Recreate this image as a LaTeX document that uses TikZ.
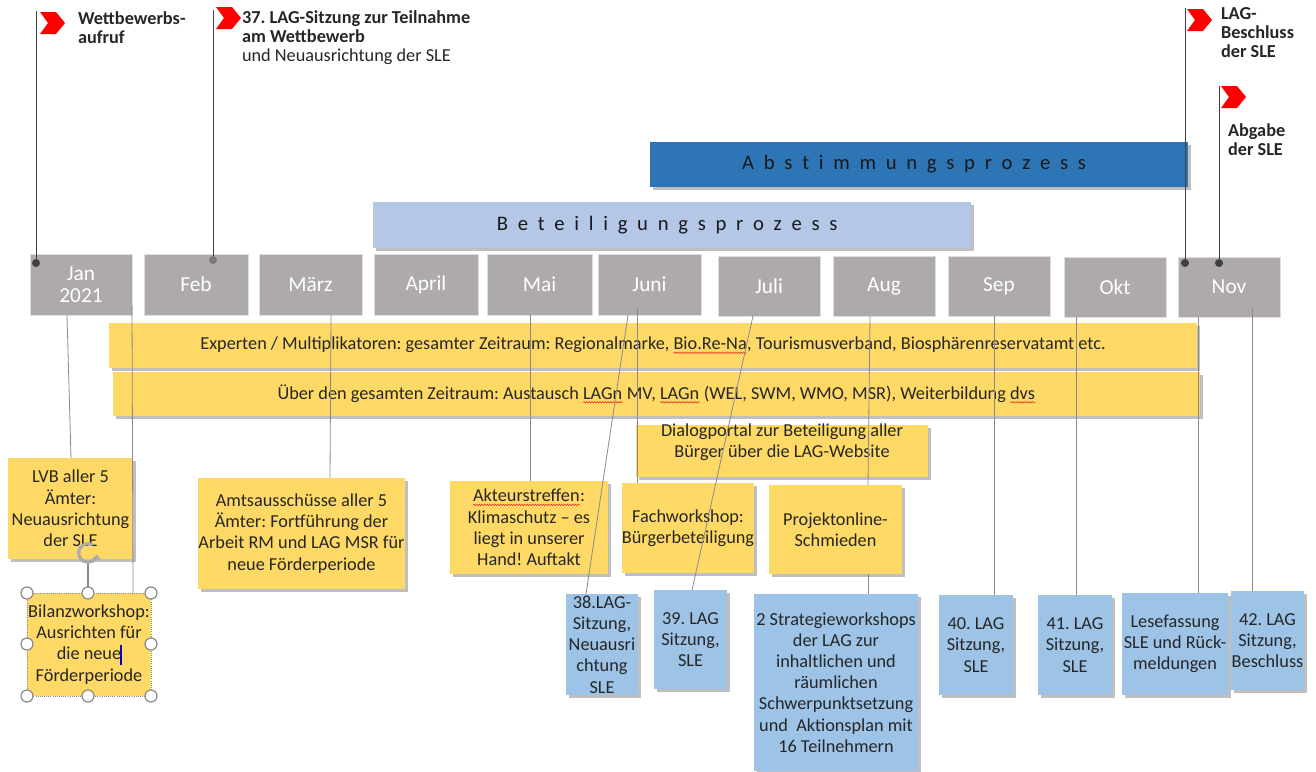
\documentclass[tikz,border=0pt]{standalone}
\usepackage{fontspec}
\setmainfont{Carlito}
\usetikzlibrary{shadows,arrows.meta,decorations.pathmorphing}
\definecolor{monthgray}{HTML}{AEAAAA}
\definecolor{ylw}{HTML}{FFD966}
\definecolor{lblue}{HTML}{9DC3E6}
\definecolor{bblue}{HTML}{B4C7E7}
\definecolor{dblue}{HTML}{2E75B6}
\definecolor{flagred}{HTML}{FF0000}
\definecolor{connc}{HTML}{8A8A8A}
\definecolor{polec}{HTML}{404040}
\definecolor{txt}{HTML}{262626}
\definecolor{spellred}{HTML}{E02020}
\frenchspacing
\def\spaceout#1{\spaceoutA#1\relax}
\def\spaceoutA#1{\ifx#1\relax\else#1\kern0.47em\expandafter\spaceoutA\fi}
\newlength\spellw
\newcommand\spell[1]{\setbox0\hbox{#1}\setlength\spellw{\wd0}\rlap{\box0}\tikz[x=1pt,y=1pt,baseline=0pt]{\path (-\spellw,0) -- (0,0);\draw[spellred,line width=0.35pt,decorate,decoration={zigzag,amplitude=0.6pt,segment length=2pt}] (-\spellw,-2.2pt) -- (0,-2.2pt);}}
\newcommand\mybox[7]{\node[#6, minimum width={(#4-#2)*0.75pt}, minimum height={(#5-#3)*0.75pt}] (#1) at ({(#2+#4)/2},{(#3+#5)/2}) {#7};}
\newcommand\chev[2]{\fill[flagred] (#1,#2) -- ++(16,0) -- ++(9,11) -- ++(-9,11) -- ++(-16,0) -- ++(8,-11) -- cycle;}
\begin{document}
\begin{tikzpicture}[x=0.75pt,y=-0.75pt,
  every node/.style={inner sep=0pt, outer sep=0pt},
  shade/.style={drop shadow={shadow xshift=2pt, shadow yshift=-2pt, opacity=0.25, fill=black}},
  bodytext/.style={font=\fontsize{13.7}{15.9}\selectfont, text=txt, align=center},
  ybox/.style={bodytext, fill=ylw, shade},
  bbox/.style={bodytext, fill=lblue, shade},
  month/.style={fill=monthgray, draw=monthgray!40, line width=0.6pt, text=white, align=center, font=\fontsize{16}{16.5}\selectfont},
  banner/.style={shade, text=black!90, font=\fontsize{15.5}{16}\selectfont},
  flagtext/.style={font=\fontsize{13.7}{14.2}\selectfont, text=txt, align=left, anchor=north west},
  conn/.style={draw=connc, line width=0.6pt},
  pole/.style={draw=polec, line width=0.75pt},
  dot/.style={circle, fill=polec, minimum size=6pt},
  handle/.style={circle, fill=white, draw=connc, line width=0.9pt, minimum size=9pt}]
\useasboundingbox (0,0) rectangle (1316,771);

% banners
\mybox{abst}{650}{142}{1188}{187}{banner, fill=dblue}{\spaceout{Abstimmungsprozess}}
\mybox{beteil}{373}{202}{971}{248}{banner, fill=bblue}{\spaceout{Beteiligungsprozess}}

% months
\mybox{jan}{30}{254}{132}{315}{month}{Jan\\2021}
\mybox{feb}{144}{254}{248}{315}{month}{Feb}
\mybox{maerz}{259}{254}{362}{315}{month}{März}
\mybox{april}{374}{254}{478}{315}{month}{April}
\mybox{mai}{487}{254}{592}{315}{month}{Mai}
\mybox{juni}{598}{254}{701}{315}{month}{Juni}
\mybox{juli}{718}{256}{820}{316}{month}{Juli}
\mybox{aug}{833}{256}{935}{316}{month}{Aug}
\mybox{sep}{948}{256}{1050}{316}{month}{Sep}
\mybox{okt}{1064}{257}{1166}{317}{month}{Okt}
\mybox{nov}{1178}{257}{1280}{317}{month}{Nov}

% yellow bars and boxes
\mybox{experten}{109}{323}{1197}{368}{ybox}{Experten / Multiplikatoren: gesamter Zeitraum: Regionalmarke, \spell{Bio.Re-Na}, Tourismusverband, Biosphärenreservatamt etc.}
\mybox{ueber}{113}{372}{1200}{416}{ybox}{Über den gesamten Zeitraum: Austausch \spell{LAGn} MV, \spell{LAGn} (WEL, SWM, WMO, MSR), Weiterbildung \spell{dvs}}
\mybox{dialog}{636}{425}{928}{477}{ybox}{}
\node[bodytext] (dialogt) at (782,442) {Dialogportal zur Beteiligung aller\\Bürger über die LAG-Website};
\mybox{lvb}{8}{458}{133}{559}{ybox}{LVB aller 5\\Ämter:\\Neuausrichtung\\der SLE}
\mybox{amts}{198}{478}{405}{589}{ybox}{Amtsausschüsse aller 5\\Ämter: Fortführung der\\Arbeit RM und LAG MSR für\\neue Förderperiode}
\mybox{akteur}{450}{481}{608}{574}{ybox}{\spell{Akteurstreffen}:\\Klimaschutz -- es\\liegt in unserer\\Hand! Auftakt}
\mybox{fach}{622}{483}{754}{573}{ybox}{Fachworkshop:\\Bürgerbeteiligung}
\mybox{projekt}{769}{485}{902}{574}{ybox}{Projektonline-\\Schmieden}
\mybox{bilanz}{27}{593}{151}{696}{bodytext, fill=ylw, draw=connc, densely dotted, line width=0.6pt}{Bilanzworkshop:\\Ausrichten für\\die neue\\Förderperiode}

% blue boxes
\mybox{s38}{566}{594}{638}{695}{bbox}{38.LAG-\\Sitzung,\\Neuausri\\chtung\\SLE}
\mybox{s39}{654}{590}{727}{689}{bbox}{39. LAG\\Sitzung,\\SLE}
\mybox{strat}{754}{594}{918}{771}{bbox}{2 Strategieworkshops\\der LAG zur\\inhaltlichen und\\räumlichen\\Schwerpunktsetzung\\und~ Aktionsplan mit\\16 Teilnehmern}
\mybox{s40}{939}{595}{1013}{695}{bbox}{40. LAG\\Sitzung,\\SLE}
\mybox{s41}{1038}{595}{1112}{695}{bbox}{41. LAG\\Sitzung,\\SLE}
\mybox{lese}{1122}{593}{1228}{695}{bbox}{Lesefassung\\SLE und Rück-\\meldungen}
\mybox{s42}{1231}{591}{1304}{690}{bbox}{42. LAG\\Sitzung,\\Beschluss}

% connectors
\draw[conn] (jan.south -| 67,0) -- (lvb.north -| 71,0);
\draw[conn] (132,306) -- (bilanz.north -| 133,0);
\draw[conn] (maerz.south -| 331,0) -- (amts.north -| 330,0);
\draw[conn] (mai.south -| 530,0) -- (akteur.north -| 530,0);
\draw[conn] (juni.south -| 628,0) -- (s38.north -| 586,0);
\draw[conn] (637,308) -- (fach.north -| 637,0);
\draw[conn] (juli.south -| 753,0) -- (s39.north -| 692,0);
\draw[conn] (aug.south -| 870,0) -- (projekt.north -| 868,0);
\draw[conn] (projekt.south -| 868,0) -- (strat.north -| 868,0);
\draw[conn] (sep.south -| 994,0) -- (s40.north -| 994,0);
\draw[conn] (okt.south -| 1076,0) -- (s41.north -| 1076,0);
\draw[conn] (nov.south -| 1198,0) -- (lese.north -| 1198,0);
\draw[conn] (1252,308) -- (s42.north -| 1252,0);

% flags
\node[dot] (d1) at (36,263) {};
\node[dot, fill=polec!70] (d2) at (213,260) {};
\node[dot] (d3) at (1185,263) {};
\node[dot] (d4) at (1219,263) {};
\coordinate (p1) at (36,11);
\coordinate (p2) at (213,10);
\coordinate (p3) at (1185,8);
\coordinate (p4) at (1219,86);
\draw[pole] (p1) -- (d1);
\draw[pole] (p2) -- (d2);
\draw[pole] (p3) -- (d3);
\draw[pole] (p4) -- (d4);
\chev{40}{12}
\chev{216}{7}
\chev{1187}{9}
\chev{1221}{86}
\node[flagtext] (t1) at (78,12) {\textbf{Wettbewerbs-}\\\textbf{aufruf}};
\node[flagtext] (t2) at (242,11) {\textbf{37. LAG-Sitzung zur Teilnahme}\\\textbf{am Wettbewerb}\\und Neuausrichtung der SLE};
\node[flagtext] (t3) at (1221,8) {\textbf{LAG-}\\\textbf{Beschluss}\\\textbf{der SLE}};
\node[flagtext] (t4) at (1228,124) {\textbf{Abgabe}\\\textbf{der SLE}};

% selection handles on Bilanzworkshop
\node[circle, minimum size=16pt] (rot) at (88,553) {};
\draw[conn, line width=0.9pt] (rot.south) -- (88,587);
\draw[draw=gray!65, line width=2.4pt, -{Triangle[length=3.5pt,width=6.5pt]}] (88,553) ++(60:7pt) arc[start angle=60, end angle=350, radius=7pt];
\foreach \hx/\hy [count=\i] in {27/593,88/593,151/593,27/644,151/644,27/696,88/696,151/696}
  \node[handle] (h\i) at (\hx,\hy) {};
\draw[blue!80!black, line width=0.8pt] (121,645) -- (121,665);
\end{tikzpicture}
\end{document}
